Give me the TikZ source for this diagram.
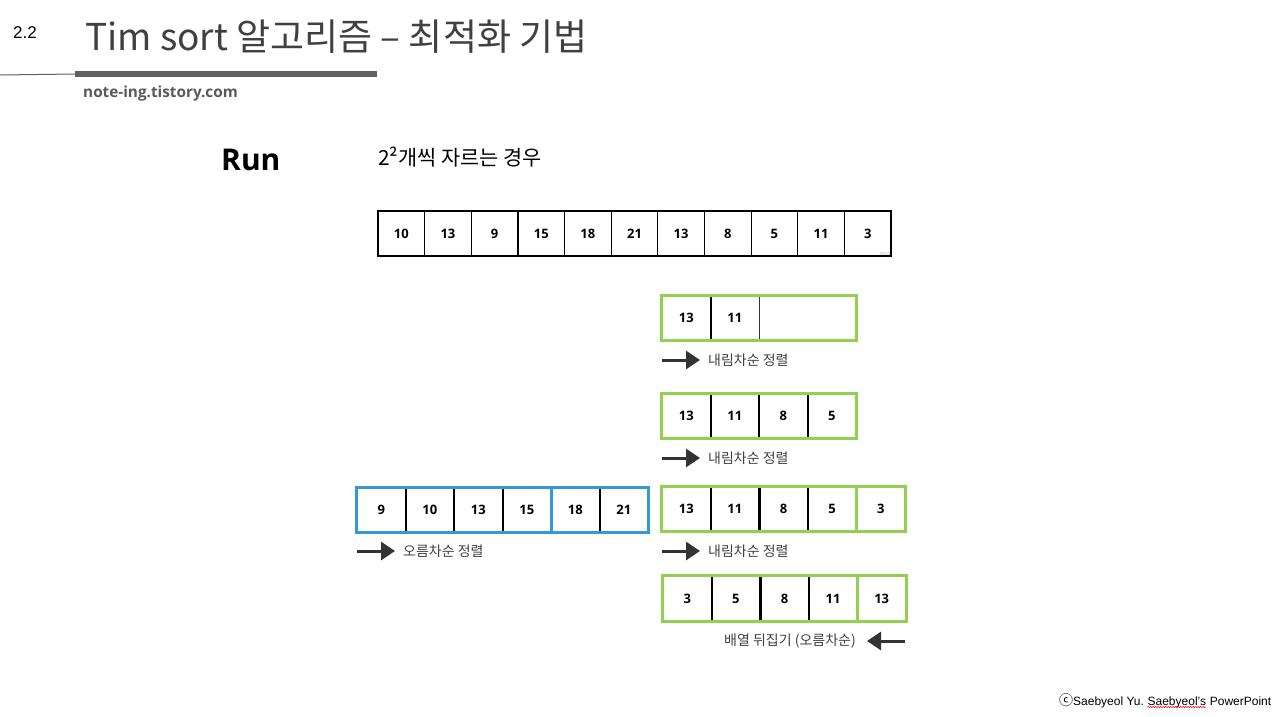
\documentclass[tikz,border=0pt]{standalone}
\usepackage{fontspec}
\setmainfont{Liberation Sans}
\newfontfamily\krfont{Noto Sans CJK KR}
\newfontfamily\numfont{Open Sans}
\usetikzlibrary{arrows.meta, positioning, decorations.pathmorphing}
\definecolor{titlegray}{RGB}{64,64,64}
\definecolor{bargray}{RGB}{96,96,96}
\definecolor{webgray}{RGB}{89,89,89}
\definecolor{rungreen}{RGB}{146,208,80}
\definecolor{runblue}{RGB}{52,152,219}
\definecolor{arrowgray}{RGB}{51,51,51}

\begin{document}
\begin{tikzpicture}[x=1pt, y=-1pt,
    cell/.style={rectangle, minimum width=48.5pt, minimum height=45pt, inner sep=0pt, font=\numfont\bfseries\fontsize{13}{15}\selectfont},
    topcell/.style={cell, draw=black, line width=1.2pt, minimum width=46.64pt},
    sep/.style={line width=2.2pt, black},
    greenrun/.style={draw=rungreen, line width=3pt},
    bluerun/.style={draw=runblue, line width=3pt},
    runarrow/.style={-{Triangle[length=14pt, width=18pt]}, line width=3pt, arrowgray},
    note/.style={font=\krfont\fontsize{14}{16}\selectfont, text=titlegray, inner sep=0pt, anchor=west},
    credit/.style={font=\fontsize{12}{14}\selectfont, inner sep=0pt}
]
    \useasboundingbox (0,0) rectangle (1279,716);

    % Header
    \node[anchor=base west, font=\fontsize{17}{20}\selectfont, inner sep=0pt] (secno) at (13,38) {2.2};
    \node[anchor=base west, font=\krfont\fontsize{37}{42}\selectfont, text=titlegray, inner sep=0pt] (title) at (85,50) {Tim sort 알고리즘 – 최적화 기법};
    \coordinate (rulestart) at (0,75);
    \coordinate (barstart) at (75,74);
    \coordinate (barend) at (377,74);
    \draw[bargray, line width=1pt] (rulestart) -- (barstart);
    \draw[bargray, line width=6pt] (barstart) -- (barend);
    \node[anchor=base west, font=\numfont\bfseries\fontsize{15.3}{18}\selectfont, text=webgray, inner sep=0pt] (blog) at (83,97) {note-ing.tistory.com};

    % Headings
    \node[anchor=base west, font=\numfont\bfseries\fontsize{30}{33}\selectfont, inner sep=0pt] (run) at (221,170) {Run};
    \node[anchor=base west, font=\krfont\fontsize{20.8}{24}\selectfont, inner sep=0pt] (case) at (378,165) {2²개씩 자르는 경우};

    % Input array
    \foreach \v [count=\i] in {10,13,9,15,18,21,13,8,5,11,3}
        \node[topcell] (top\i) at ({378+46.64*(\i-0.5)},233.5) {\v};
    \node[anchor=south east, font=\numfont\fontsize{5}{6}\selectfont, text=gray!60, inner sep=1pt] (miro) at (top11.south east) {miro};

    % Run 1: 13 11
    \foreach \v [count=\i] in {13,11}
        \node[cell] (ga\i) at ({662+48.5*(\i-0.5)},318) {\v};
    \node[cell, minimum width=97pt, right=0pt of ga2] (ga3) {};
    \draw[sep] (ga1.north east) -- (ga1.south east);
    \draw[line width=1.3pt, arrowgray] (ga2.north east) -- (ga2.south east);
    \draw[greenrun] (ga1.north west) rectangle (ga3.south east);
    \coordinate (gatail) at (662,360);
    \node[note] (galbl) at (708,360) {내림차순 정렬};
    \draw[runarrow, shorten >=8pt] (gatail) -- (galbl.west);

    % Run 2: 13 11 8 5
    \foreach \v [count=\i] in {13,11,8,5}
        \node[cell] (gb\i) at ({662+48.5*(\i-0.5)},416) {\v};
    \foreach \i in {1,2,3}
        \draw[sep] (gb\i.north east) -- (gb\i.south east);
    \draw[greenrun] (gb1.north west) rectangle (gb4.south east);
    \coordinate (gbtail) at (662,458);
    \node[note] (gblbl) at (708,458) {내림차순 정렬};
    \draw[runarrow, shorten >=8pt] (gbtail) -- (gblbl.west);

    % Ascending run
    \foreach \v [count=\i] in {9,10,13,15,18,21}
        \node[cell] (bl\i) at ({357+48.5*(\i-0.5)},510) {\v};
    \foreach \i in {1,2,3,5}
        \draw[sep] (bl\i.north east) -- (bl\i.south east);
    \draw[bluerun] (bl4.north east) -- (bl4.south east);
    \draw[bluerun] (bl1.north west) rectangle (bl6.south east);
    \coordinate (bltail) at (357,551);
    \node[note] (bllbl) at (403,551) {오름차순 정렬};
    \draw[runarrow, shorten >=8pt] (bltail) -- (bllbl.west);

    % Run 3: 13 11 8 5 | 3
    \foreach \v [count=\i] in {13,11,8,5,3}
        \node[cell, minimum width=48.6pt] (gc\i) at ({662+48.6*(\i-0.5)},509) {\v};
    \foreach \i in {1,2,3}
        \draw[sep] (gc\i.north east) -- (gc\i.south east);
    \draw[greenrun] (gc4.north east) -- (gc4.south east);
    \draw[greenrun] (gc1.north west) rectangle (gc5.south east);
    \coordinate (gctail) at (662,551);
    \node[note] (gclbl) at (708,551) {내림차순 정렬};
    \draw[runarrow, shorten >=8pt] (gctail) -- (gclbl.west);

    % Reversed run: 3 5 8 11 | 13
    \foreach \v [count=\i] in {3,5,8,11,13}
        \node[cell, minimum width=48.6pt] (gd\i) at ({663+48.6*(\i-0.5)},598.5) {\v};
    \foreach \i in {1,2,3}
        \draw[sep] (gd\i.north east) -- (gd\i.south east);
    \draw[greenrun] (gd4.north east) -- (gd4.south east);
    \draw[greenrun] (gd1.north west) rectangle (gd5.south east);
    \coordinate (gdtail) at (905,641);
    \node[note, anchor=east] (gdlbl) at (856,641) {배열 뒤집기 (오름차순)};
    \draw[runarrow, shorten >=11pt] (gdtail) -- (gdlbl.east);

    % Footer
    \node[credit, anchor=base west] (creditA) at (1059,705) {{\krfont\fontsize{14}{14}\selectfont ⓒ}Saebyeol Yu.};
    \node[credit, base right=3.3pt of creditA] (creditB) {Saebyeol’s};
    \node[credit, base right=3.3pt of creditB] (creditC) {PowerPoint};
    \draw[red, line width=0.5pt, decorate, decoration={snake, amplitude=0.7pt, segment length=2.5pt}] ([yshift=-2pt]creditB.base west) -- ([yshift=-2pt]creditB.base east);
\end{tikzpicture}
\end{document}
